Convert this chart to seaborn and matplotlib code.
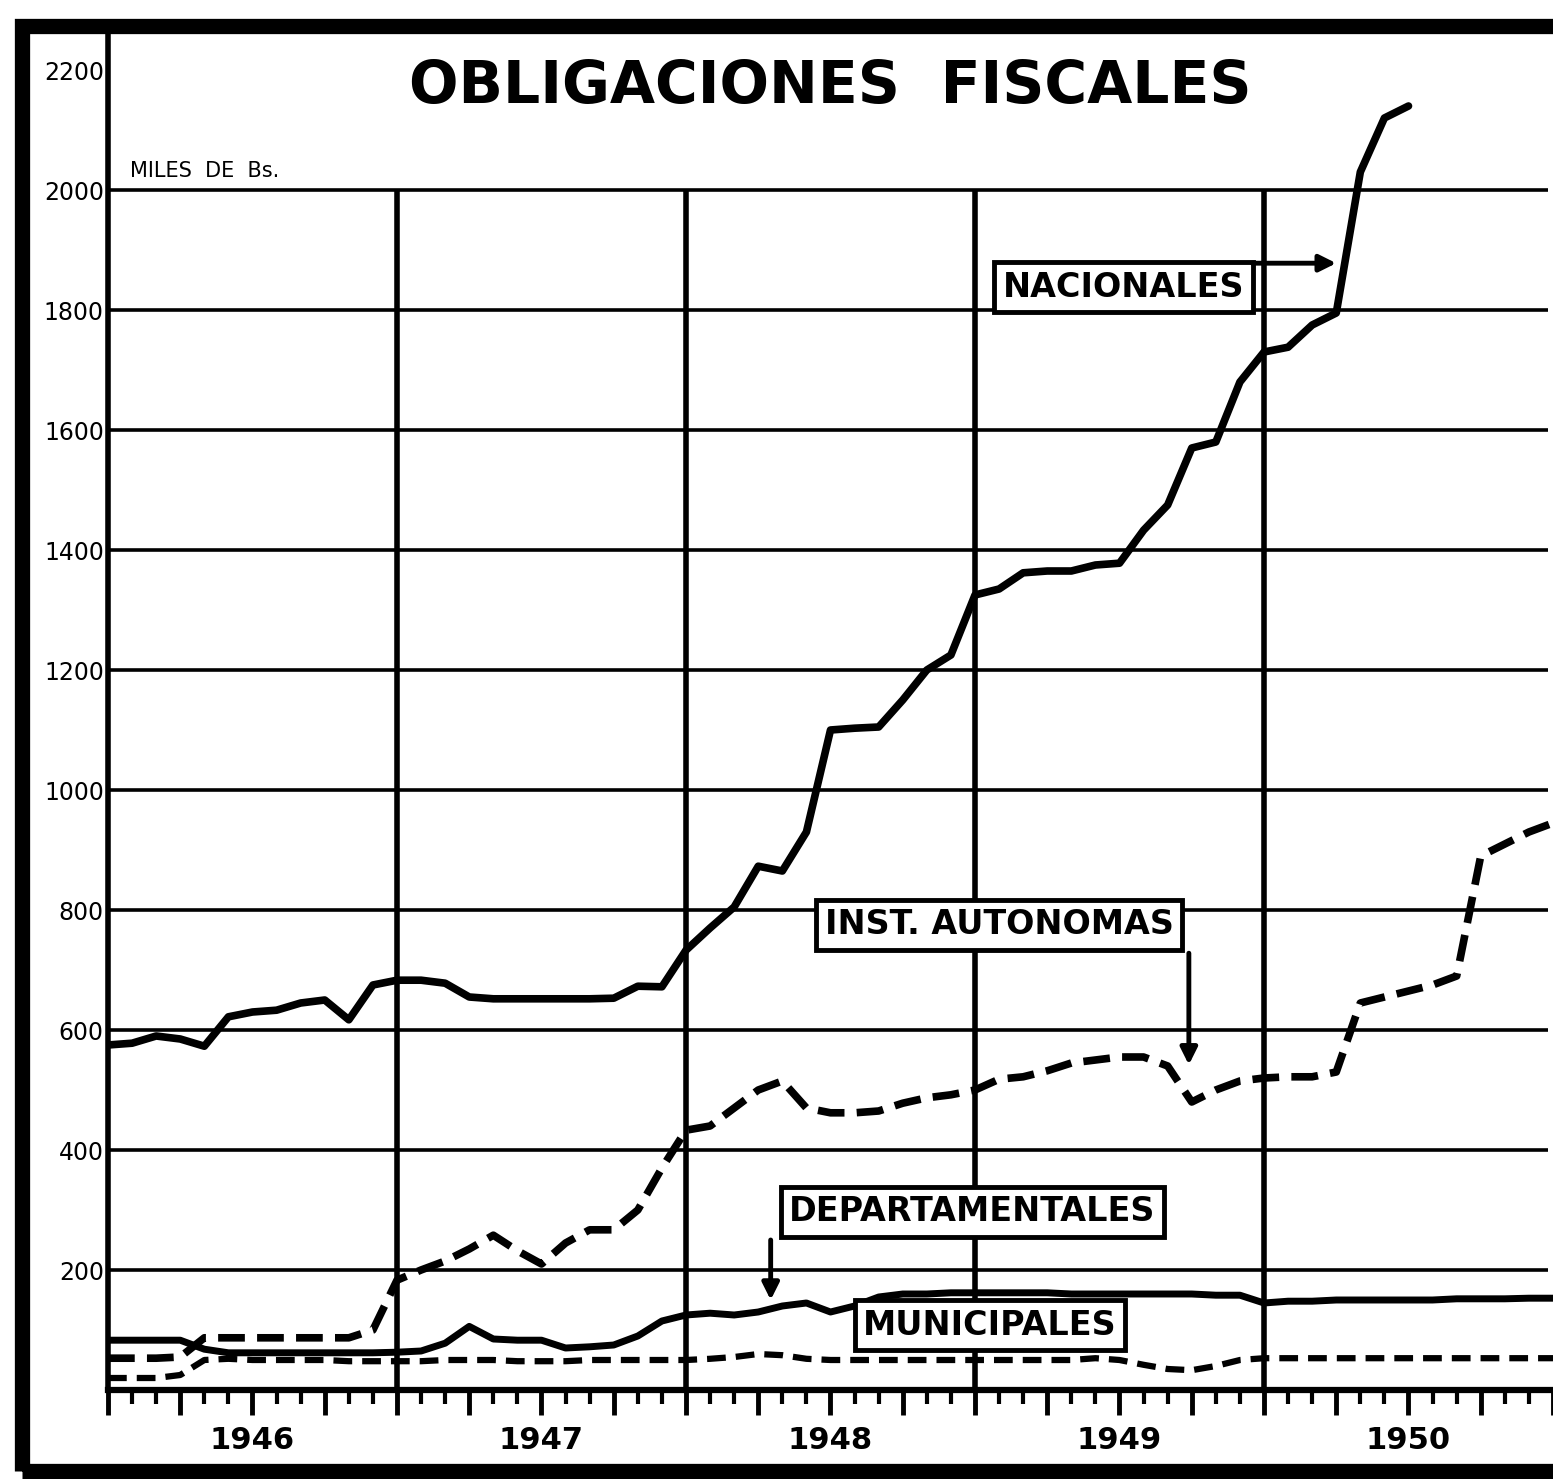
import matplotlib
matplotlib.use("Agg")

import numpy as np
import matplotlib.pyplot as plt
from matplotlib.patches import Rectangle
import seaborn as sns

# -------------------------------
# Data (miles de Bs., monthly from Jan 1946)
# -------------------------------

nacionales = [575, 578, 590, 585, 573, 622, 630, 633, 645, 650, 617, 675,
              683, 683, 678, 655, 652, 652, 652, 652, 652, 653, 673, 672,
              733, 770, 805, 873, 865, 930, 1100, 1103, 1105, 1150, 1200, 1225,
              1325, 1335, 1362, 1365, 1365, 1375, 1378, 1433, 1475, 1570, 1580, 1680,
              1730, 1738, 1775, 1795, 2030, 2120, 2140]

inst_autonomas = [53, 53, 53, 55, 87, 87, 87, 87, 87, 87, 87, 100,
                  183, 200, 215, 235, 258, 232, 210, 245, 267, 267, 300, 370,
                  433, 440, 470, 500, 515, 470, 462, 462, 465, 478, 487, 492,
                  500, 518, 522, 532, 545, 550, 555, 555, 540, 480, 500, 515,
                  520, 522, 522, 530, 645, 655, 665, 675, 690, 890, 910, 930, 945]

departamentales = [83, 83, 83, 83, 68, 62, 62, 62, 62, 62, 62, 62,
                   63, 65, 78, 106, 85, 83, 83, 70, 72, 75, 90, 115,
                   125, 128, 125, 130, 140, 145, 130, 140, 155, 160, 160, 162,
                   162, 162, 162, 162, 160, 160, 160, 160, 160, 160, 158, 158,
                   145, 148, 148, 150, 150, 150, 150, 150, 152, 152, 152, 153, 153]

municipales = [20, 20, 20, 25, 50, 52, 50, 50, 50, 50, 48, 48,
               48, 48, 50, 50, 50, 48, 48, 48, 50, 50, 50, 50,
               50, 52, 55, 60, 58, 52, 50, 50, 50, 50, 50, 50,
               50, 50, 50, 50, 50, 53, 50, 42, 35, 33, 40, 50,
               53, 53, 53, 53, 53, 53, 53, 53, 53, 53, 53, 53, 53]

years = [1946, 1947, 1948, 1949, 1950]
y_ticks = [200, 400, 600, 800, 1000, 1200, 1400, 1600, 1800, 2000, 2200]
grid_levels = y_ticks[:-1]


def to_time(values):
    return 1946 + np.arange(len(values)) / 12.0


# -------------------------------
# Figure
# -------------------------------

sns.set_style("white")
plt.rcParams["font.family"] = ["DejaVu Sans"]
plt.rcParams["text.color"] = "black"
plt.rcParams["xtick.color"] = "black"
plt.rcParams["ytick.color"] = "black"

fig = plt.figure(figsize=(15.53, 14.79), dpi=100)
ax = fig.add_axes([108 / 1553, 89 / 1479, 1445 / 1553, 1365 / 1479])

x0, x1 = 1946, 1946 + 1445 / 290
ax.set_xlim(x0, x1)
ax.set_ylim(0, 2275)

# grid
ax.hlines(grid_levels, x0, x1, color="black", lw=2.6, zorder=1)
ax.vlines(years[1:], 0, 2000, color="black", lw=4, zorder=1)

# series
sns.lineplot(x=to_time(nacionales), y=nacionales, ax=ax,
             color="black", lw=5.5, zorder=3)
sns.lineplot(x=to_time(inst_autonomas), y=inst_autonomas, ax=ax,
             color="black", lw=5.5, zorder=3,
             linestyle=(0, (3.5, 1.6)))
sns.lineplot(x=to_time(departamentales), y=departamentales, ax=ax,
             color="black", lw=5, zorder=3)
sns.lineplot(x=to_time(municipales), y=municipales, ax=ax,
             color="black", lw=4.5, zorder=3,
             linestyle=(0, (3, 1.6)))

# axes styling
for side in ["top", "right"]:
    ax.spines[side].set_visible(False)
ax.spines["left"].set_linewidth(4)
ax.spines["bottom"].set_linewidth(4.5)
ax.spines["left"].set_color("black")
ax.spines["bottom"].set_color("black")

ax.set_yticks(y_ticks)
ax.set_yticklabels([str(v) for v in y_ticks], fontsize=17)
ax.tick_params(axis="y", length=0, pad=3)

quarters = np.arange(x0, 1951.01, 0.25)
q_labels = []
for q in quarters:
    if abs((q % 1) - 0.5) < 1e-6 and int(q) in years:
        q_labels.append(str(int(q)))
    else:
        q_labels.append("")
ax.set_xticks(quarters)
ax.set_xticklabels(q_labels, fontsize=22, fontweight="bold")
ax.set_xticks(np.arange(x0, 1951.01, 1 / 12), minor=True)
ax.tick_params(axis="x", which="both", bottom=True, direction="out",
               color="black")
ax.tick_params(axis="x", which="major", length=18, width=3.5, pad=8)
ax.tick_params(axis="x", which="minor", length=10, width=3)

# titles
ax.text(0.5, 0.955, "OBLIGACIONES  FISCALES", transform=ax.transAxes,
        ha="center", va="center", fontsize=42, fontweight="bold")
ax.text(0.015, 0.893, "MILES  DE  Bs.", transform=ax.transAxes,
        ha="left", va="center", fontsize=15)

# labels with boxes
box = dict(boxstyle="square,pad=0.25", fc="white", ec="black", lw=3.5)
arrow = dict(arrowstyle="-|>", lw=3.5, color="black", mutation_scale=25,
             shrinkA=0, shrinkB=0)

ax.text(1949.514, 1838, "NACIONALES", ha="center", va="center",
        fontsize=24, fontweight="bold", bbox=box, zorder=5)
ax.annotate("", xy=(1950.25, 1878), xytext=(1949.96, 1878),
            arrowprops=arrow, zorder=5)

ax.text(1949.083, 775, "INST. AUTONOMAS", ha="center", va="center",
        fontsize=24, fontweight="bold", bbox=box, zorder=5)
ax.annotate("", xy=(1949.74, 542), xytext=(1949.74, 728),
            arrowprops=arrow, zorder=5)

ax.text(1948.99, 297, "DEPARTAMENTALES", ha="center", va="center",
        fontsize=24, fontweight="bold", bbox=box, zorder=5)
ax.annotate("", xy=(1948.293, 150), xytext=(1948.293, 250),
            arrowprops=arrow, zorder=5)

ax.text(1949.052, 108, "MUNICIPALES", ha="center", va="center",
        fontsize=24, fontweight="bold", bbox=box, zorder=5)

# outer frame
fig.patches.append(Rectangle((22 / 1553, 8 / 1479), 1.2, 1463 / 1479 - 0.012,
                             transform=fig.transFigure, fill=False,
                             ec="black", lw=11, zorder=10))

fig.savefig("out.png", dpi=100)
plt.close(fig)
